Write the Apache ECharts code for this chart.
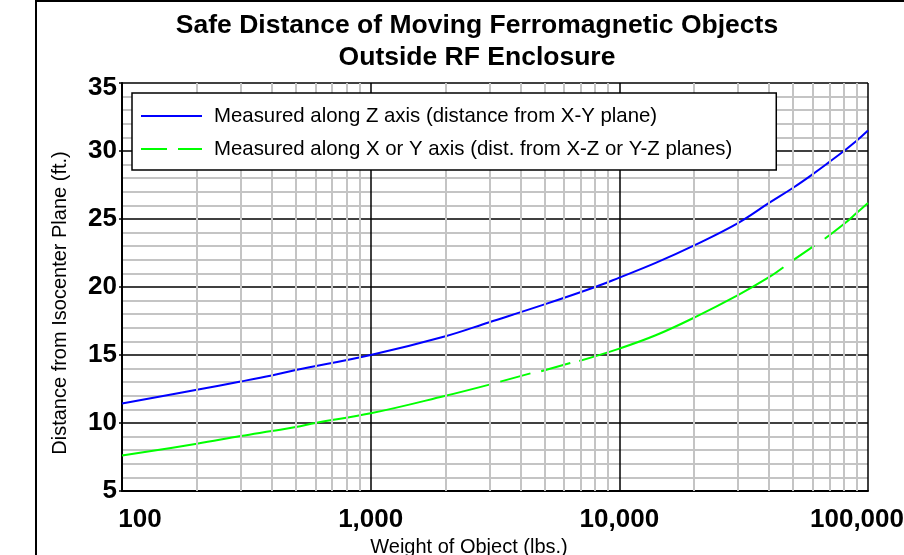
<!DOCTYPE html>
<html>
<head>
<meta charset="utf-8">
<script src="https://cdn.jsdelivr.net/npm/echarts@6/dist/echarts.min.js"></script>
<style>
    html, body { margin: 0; padding: 0; background: #fff; }
    #chart { width: 904px; height: 555px; }
</style>
</head>
<body>
<div id="chart"></div>
<script>
    // values (weight in lbs, distance in ft)
    const blueName = 'Measured along Z axis (distance from X-Y plane)';
    const greenName = 'Measured along X or Y axis (dist. from X-Z or Y-Z planes)';

    const blueW = [100, 200, 300, 400, 500, 1000, 2000, 3000, 5000, 8000, 10000, 14000,
        20000, 30000, 40000, 50000, 60000, 70000, 80000, 90000, 100000];
    const blueY = [11.43, 12.44, 13.05, 13.5, 13.89, 15.0, 16.38, 17.41, 18.72, 20.0, 20.69, 21.77,
        23.06, 24.7, 26.18, 27.3, 28.3, 29.2, 30.0, 30.75, 31.5];

    // null = break in the long-dash line
    const greenW = [100, 200, 300, 400, 500, 600, 1000, 2000, 3030, 3170, 3320, 4390, 4600,
        4850, 6350, 6600, 6900, 10000, 14000, 20000, 30000, 40000, 45700, 47600, 49700, 60900,
        63800, 67000, 80000, 90000, 100000];
    const greenY = [7.61, 8.47, 9.04, 9.41, 9.70, 10.0, 10.71, 12.0, 12.84, null, 13.04, 13.65, null,
        13.8, 14.41, null, 14.56, 15.47, 16.45, 17.75, 19.4, 20.72, 21.45, null, 21.94, 23.04,
        null, 23.55, 24.63, 25.44, 26.18];

    const decades = [100, 1000, 10000];
    const yTicks = [5, 10, 15, 20, 25, 30, 35];

    let minorX = [];
    decades.forEach(d => {
        for (let k = 2; k <= 9; k++) minorX.push(d * k);
    });

    const pairs = (xs, ys) => xs.map((x, i) => [x, ys[i] === null ? '-' : ys[i]]);

    const font = 'Liberation Sans, Arial';
    const chart = echarts.init(document.getElementById('chart'));
    const option = {
        animation: false,
        backgroundColor: '#fff',
        title: {
            text: 'Safe Distance of Moving Ferromagnetic Objects\nOutside RF Enclosure',
            left: 477,
            top: 10,
            padding: 0,
            textAlign: 'center',
            textStyle: {
                fontFamily: font,
                fontSize: 26.5,
                fontWeight: 'bold',
                color: '#000',
                lineHeight: 32
            }
        },
        graphic: [{
            type: 'rect',
            shape: {x: 36, y: 1, width: 1000, height: 1000},
            style: {fill: 'none', stroke: '#000', lineWidth: 2},
            silent: true
        }],
        legend: {
            orient: 'vertical',
            left: 132,
            top: 93,
            z: 10,
            padding: [13, 44, 11, 8],
            itemGap: 13,
            itemWidth: 61,
            itemHeight: 20,
            backgroundColor: '#fff',
            borderColor: '#000',
            borderWidth: 1.5,
            borderRadius: 0,
            selectedMode: false,
            itemStyle: {opacity: 0},
            textStyle: {
                fontFamily: font,
                fontSize: 20.4,
                color: '#000',
                padding: [0, 0, 0, 7]
            },
            data: [
                {name: blueName},
                {name: greenName, lineStyle: {type: [26, 11]}}
            ]
        },
        grid: {
            left: 122,
            right: 36,
            top: 83,
            bottom: 64,
            containLabel: false,
            outerBoundsMode: 'none'
        },
        xAxis: {
            type: 'log',
            logBase: 10,
            min: 100,
            max: 100000,
            z: 2,
            name: 'Weight of Object (lbs.)',
            nameLocation: 'middle',
            nameGap: 46,
            nameTextStyle: {
                fontFamily: font,
                fontSize: 20,
                color: '#000',
                padding: [0, 52, 0, 0]
            },
            axisLine: {show: true, lineStyle: {color: '#000', width: 2}},
            axisTick: {show: false},
            splitLine: {show: true, lineStyle: {color: '#000', width: 1.5}},
            axisLabel: {
                showMinLabel: true,
                showMaxLabel: true,
                margin: 16,
                fontFamily: font,
                fontSize: 26,
                fontWeight: 'bold',
                color: '#000',
                formatter: function (v) {
                    const n = Math.round(v);
                    const s = n.toLocaleString('en-US');
                    if (n === 100) return '{l|' + s + '}';
                    if (n === 100000) return '{r|' + s + '}';
                    return s;
                },
                rich: {
                    l: {fontFamily: font, fontSize: 26, fontWeight: 'bold', color: '#000', padding: [0, 0, 0, 36]},
                    r: {fontFamily: font, fontSize: 26, fontWeight: 'bold', color: '#000', padding: [0, 22, 0, 0]}
                }
            }
        },
        yAxis: {
            type: 'value',
            min: yTicks[0],
            max: yTicks[yTicks.length - 1],
            interval: 5,
            z: 2,
            name: 'Distance from Isocenter Plane (ft.)',
            nameLocation: 'middle',
            nameGap: 52,
            nameTextStyle: {
                fontFamily: font,
                fontSize: 20,
                color: '#000',
                padding: [0, 32, 0, 0]
            },
            axisLine: {show: true, lineStyle: {color: '#000', width: 2}},
            axisTick: {show: true, length: 3, lineStyle: {color: '#000', width: 1.5}},
            splitLine: {show: true, lineStyle: {color: '#000', width: 1.5}},
            minorTick: {show: false, splitNumber: 5},
            minorSplitLine: {show: true, lineStyle: {color: '#c4c4c4', width: 2}},
            axisLabel: {
                margin: 5,
                fontFamily: font,
                fontSize: 26,
                fontWeight: 'bold',
                color: '#000',
                formatter: function (v) {
                    return v === 35 ? '{t|35}' : String(v);
                },
                rich: {
                    t: {fontFamily: font, fontSize: 26, fontWeight: 'bold', color: '#000', padding: [10, 0, 0, 0]}
                }
            }
        },
        series: [
            {
                // minor vertical grid lines of the log axis
                type: 'line',
                name: '_minor',
                data: [],
                z: 1,
                silent: true,
                markLine: {
                    silent: true,
                    symbol: 'none',
                    animation: false,
                    label: {show: false},
                    lineStyle: {color: '#c4c4c4', width: 2, type: 'solid'},
                    data: minorX.map(v => ({xAxis: v}))
                }
            },
            {
                type: 'line',
                name: blueName,
                data: pairs(blueW, blueY),
                z: 3,
                smooth: 0.4,
                symbol: 'none',
                color: '#0000ff',
                lineStyle: {color: '#0000ff', width: 2}
            },
            {
                type: 'line',
                name: greenName,
                data: pairs(greenW, greenY),
                z: 3,
                smooth: 0.4,
                connectNulls: false,
                symbol: 'none',
                color: '#00ff00',
                lineStyle: {color: '#00ff00', width: 2}
            }
        ]
    };
    chart.setOption(option);
</script>
</body>
</html>
